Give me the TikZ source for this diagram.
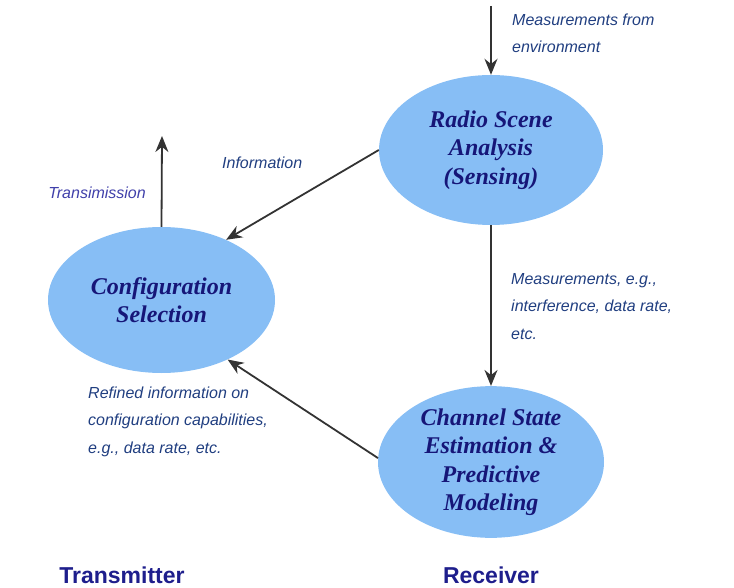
\documentclass[tikz,border=0pt]{standalone}
\usepackage{fontspec}
\setmainfont{Liberation Serif}
\setsansfont{Liberation Sans}
\usetikzlibrary{shapes.geometric,arrows.meta,calc}
\definecolor{ellfill}{RGB}{135,190,245}
\definecolor{elltext}{RGB}{22,22,120}
\definecolor{labblue}{RGB}{32,62,128}
\definecolor{transblue}{RGB}{64,64,170}
\definecolor{sidebl}{RGB}{30,30,140}
\tikzset{
  blob/.style={ellipse, fill=ellfill, draw=none, inner sep=0pt, align=center,
    text=elltext, font=\bfseries\itshape\fontsize{24}{28.5}\selectfont},
  lab/.style={font=\sffamily\itshape\fontsize{16}{27.5}\selectfont, text=labblue,
    align=left, anchor=west, inner sep=0pt},
  side/.style={font=\sffamily\bfseries\fontsize{23}{26}\selectfont, text=sidebl, inner sep=0pt},
  conn/.style={draw=black!80, line width=1.8pt, -{Stealth[length=16pt,width=13pt]}}
}
\begin{document}
\begin{tikzpicture}[x=1pt,y=-1pt]
\useasboundingbox (0,0) rectangle (734,588);
\node[blob, minimum width=224pt, minimum height=150pt] (radio) at (491,150)
  {Radio Scene\\Analysis\\(Sensing)};
\node[blob, minimum width=227pt, minimum height=146pt] (config) at (161.5,300)
  {Configuration\\Selection};
\node[blob, minimum width=226pt, minimum height=150pt] (channel) at (491,462)
  {Channel State\\Estimation \&\\Predictive\\Modeling};
\coordinate (envsrc) at (491,6);
\coordinate (txout) at (162,136);
\draw[conn] (envsrc) -- (radio.north);
\draw[conn] (radio.south) -- (channel.north);
\draw[conn] (radio.west) -- (config.43);
\draw[conn] (channel.178) -- (config.-42);
\draw[conn] (config.north) -- (txout);
\node[lab] (lenv) at (512,33.5) {Measurements from\\environment};
\node[lab] (linfo) at (222,163) {Information};
\node[lab, text=transblue, anchor=east] (ltrans) at (146,193) {Transimission};
\node[lab] (lmeas) at (511,306.5) {Measurements, e.g.,\\interference, data rate,\\etc.};
\node[lab] (lref) at (88,421.5) {Refined information on\\configuration capabilities,\\e.g., data rate, etc.};
\node[side] (ltx) at (122,575) {Transmitter};
\node[side] (lrx) at (491,575) {Receiver};
\end{tikzpicture}
\end{document}
